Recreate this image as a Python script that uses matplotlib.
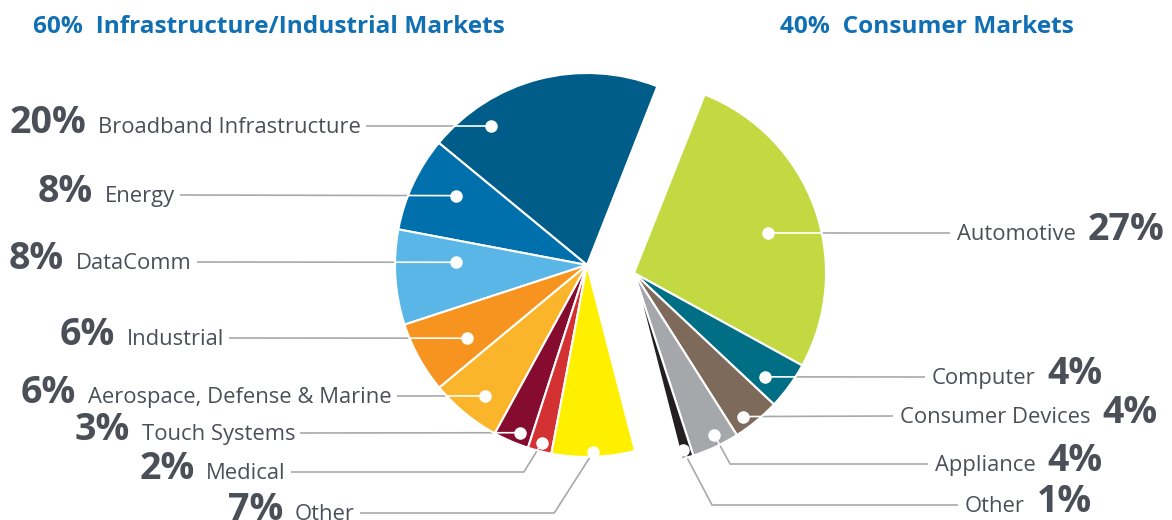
import numpy as np
import matplotlib
matplotlib.use("Agg")
import matplotlib.pyplot as plt
from matplotlib.patches import Circle

# --- data ---
infra_labels = ["Broadband Infrastructure", "Energy", "DataComm", "Industrial",
                "Aerospace, Defense & Marine", "Touch Systems", "Medical", "Other"]
infra_values = [20, 8, 8, 6, 6, 3, 2, 7]
infra_colors = ["#005d8a", "#0070ad", "#59b6e6", "#f7941f", "#fbb52b",
                "#850c2f", "#d43133", "#fff000"]

consumer_labels = ["Automotive", "Computer", "Consumer Devices", "Appliance", "Other"]
consumer_values = [27, 4, 4, 4, 1]
consumer_colors = ["#c3d942", "#006e84", "#7d6a5b", "#a5a7aa", "#231f20"]

titles = ["60%  Infrastructure/Industrial Markets", "40%  Consumer Markets"]

# --- layout (pixels, y measured from top) ---
W, H = 1172, 520
R = 192
left_center = (587, 265)
right_center = (634, 273)
# dot position inside each wedge: (fraction of wedge angle, fraction of radius)
infra_dots = [(0.78, 0.88), (0.40, 0.77), (0.33, 0.68), (0.62, 0.73),
              (0.57, 0.865), (0.65, 0.94), (0.51, 0.956), (0.50, 0.975)]
infra_line_y = [126, 195, 262, 338, 396, 433, 472, 513]
infra_line_end = [366, 180, 197, 229, 397, 300, 291, 360]
infra_elbow = [None, None, None, None, None, None, -18, -39]
consumer_dots = [(0.467, 0.73), (0.33, 0.87), (0.34, 0.94), (0.58, 0.94), (0.30, 0.957)]
consumer_line_y = [233, 377, 416, 464, 505]
consumer_line_end = [950, 925, 893, 928, 958]
consumer_elbow = [None, None, None, 16, 29]

text_color = "#4b4f58"
line_color = "#a7a9ac"
title_color = "#1170b4"
fonts = ["Open Sans", "DejaVu Sans"]

fig = plt.figure(figsize=(W / 100, H / 100), dpi=100)
ax = fig.add_axes([0, 0, 1, 1])

wp = dict(edgecolor="white", linewidth=1.5)
left_w, _ = ax.pie(np.array(infra_values) / 100, center=(left_center[0], H - left_center[1]),
                   radius=R, startangle=68.5, counterclock=True, normalize=False,
                   colors=infra_colors, wedgeprops=wp)
right_w, _ = ax.pie(np.array(consumer_values) / 100, center=(right_center[0], H - right_center[1]),
                    radius=R, startangle=68.4, counterclock=False, normalize=False,
                    colors=consumer_colors, wedgeprops=wp)
ax.set_xlim(0, W)
ax.set_ylim(0, H)
ax.axis("off")


def anchor(w, frac, rf):
    a = np.deg2rad(w.theta1 + frac * (w.theta2 - w.theta1))
    cx, cy = w.center
    return cx + rf * w.r * np.cos(a), cy + rf * w.r * np.sin(a)


def leader(w, dot, ly, xend, elbow, clip_center):
    x0, y0 = anchor(w, *dot)
    ly = H - ly
    if elbow is None:
        xs, ys = [x0, xend], [y0, ly]
    else:
        xs, ys = [x0, x0 + elbow, xend], [y0, ly, ly]
    ax.plot(xs, ys, color=line_color, lw=1.2, zorder=0.5, solid_capstyle="butt")
    # white part of the leader over the wedge
    clip = Circle((clip_center[0], H - clip_center[1]), R, transform=ax.transData)
    wl, = ax.plot(xs, ys, color="white", lw=1.2, zorder=3, solid_capstyle="butt")
    wl.set_clip_path(clip)
    ax.plot(x0, y0, "o", color="white", ms=8, zorder=4)


for i in range(len(infra_values)):
    leader(left_w[i], infra_dots[i], infra_line_y[i], infra_line_end[i], infra_elbow[i], left_center)
for i in range(len(consumer_values)):
    leader(right_w[i], consumer_dots[i], consumer_line_y[i], consumer_line_end[i], consumer_elbow[i], right_center)

# labels: name next to the line, bold percentage beyond it
fig.canvas.draw()
renderer = fig.canvas.get_renderer()
name_size, pct_size = 15.8, 27
for i, name in enumerate(infra_labels):
    base = H - infra_line_y[i] - 7
    t = ax.text(infra_line_end[i] - 5, base, name, ha="right", va="baseline",
                fontsize=name_size, color=text_color, family=fonts)
    bb = t.get_window_extent(renderer)
    ax.text(bb.x0 - 12, base, f"{infra_values[i]}%", ha="right", va="baseline",
            fontsize=pct_size, fontweight="bold", color=text_color, family=fonts)
for i, name in enumerate(consumer_labels):
    base = H - consumer_line_y[i] - 7
    t = ax.text(consumer_line_end[i] + 7, base, name, ha="left", va="baseline",
                fontsize=name_size, color=text_color, family=fonts)
    bb = t.get_window_extent(renderer)
    ax.text(bb.x1 + 12, base, f"{consumer_values[i]}%", ha="left", va="baseline",
            fontsize=pct_size, fontweight="bold", color=text_color, family=fonts)

ax.text(33, H - 33, titles[0], ha="left", va="baseline", fontsize=17.6,
        fontweight="bold", color=title_color, family=fonts)
ax.text(780, H - 33, titles[1], ha="left", va="baseline", fontsize=17.6,
        fontweight="bold", color=title_color, family=fonts)

fig.savefig("out.png", dpi=100)
